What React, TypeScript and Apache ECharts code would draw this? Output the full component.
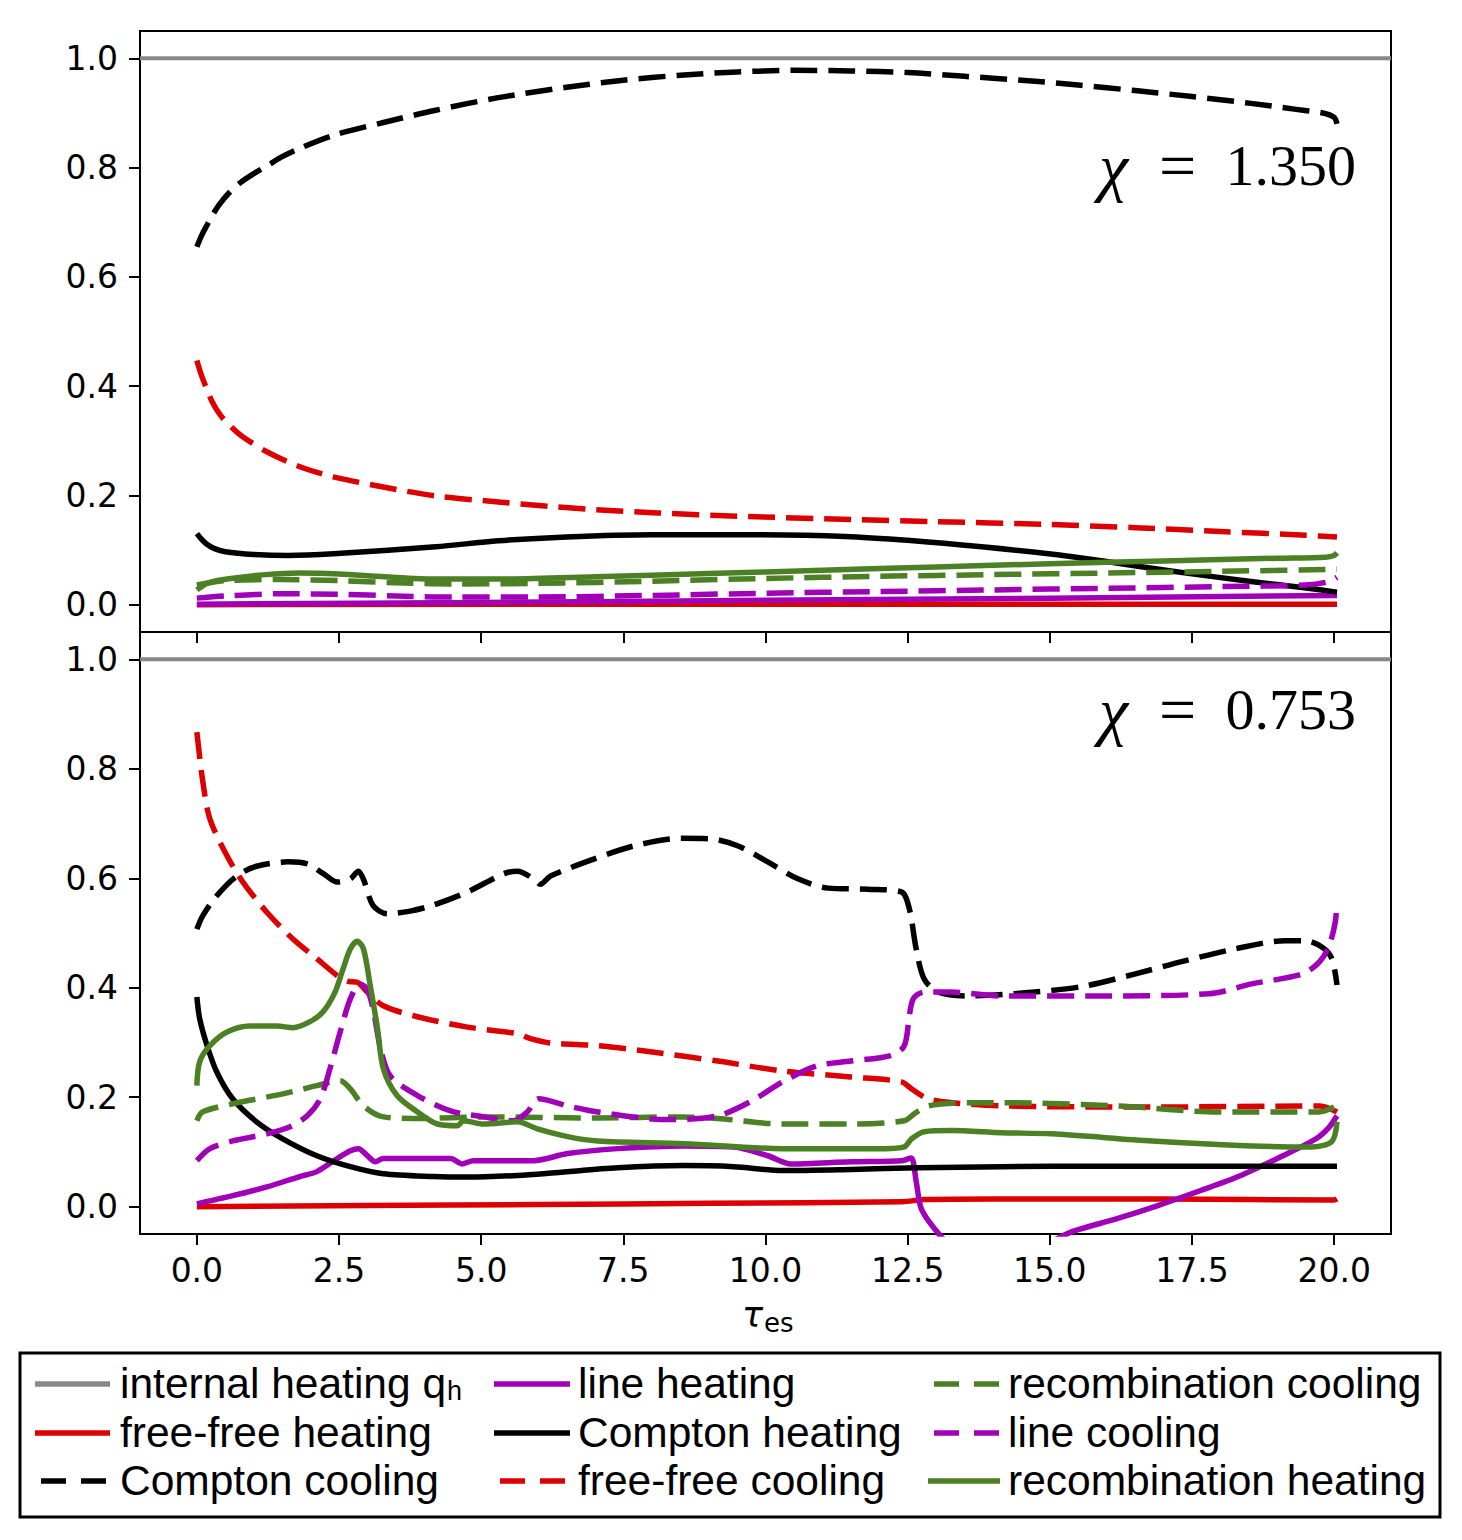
import React, { useEffect, useRef } from "react";
import * as echarts from "echarts";

// ---------- tick values ----------
const xTicks = [0, 2.5, 5, 7.5, 10, 12.5, 15, 17.5, 20];
const yTicks = [0, 0.2, 0.4, 0.6, 0.8, 1.0];

// ---------- legend labels (column-major order) ----------
const legendNames = [
  "internal heating q",
  "free-free heating",
  "Compton cooling",
  "line heating",
  "Compton heating",
  "free-free cooling",
  "recombination cooling",
  "line cooling",
  "recombination heating",
];

const panelLabels = ["1.350", "0.753"];

// ---------- top panel (chi = 1.350) ----------
const internalHeating = [[-1, 1], [21, 1]];

const ffHeatTop = [[0, 0.0], [10, 0.001], [20.05, 0.001]];

const comptonCoolTop = [
  [0, 0.655], [0.08, 0.675], [0.17, 0.693], [0.28, 0.714], [0.4, 0.733], [0.56, 0.753],
  [0.76, 0.772], [1.0, 0.789], [1.23, 0.803], [1.5, 0.82], [1.8, 0.835],
  [2.4, 0.859], [3.3, 0.883], [4.2, 0.905], [5.3, 0.928], [6.5, 0.947], [7.5, 0.96],
  [8.5, 0.969], [9.5, 0.975], [10.5, 0.978], [11.5, 0.977], [12.5, 0.974], [13.5, 0.967],
  [14.5, 0.96], [15.5, 0.951], [16.5, 0.941], [17.5, 0.93], [18.5, 0.918], [19.3, 0.907],
  [19.8, 0.9], [20.0, 0.892], [20.05, 0.88],
];

const lineHeatTop = [[0, 0.001], [5, 0.004], [10, 0.008], [15, 0.012], [20.05, 0.017]];

const comptonHeatTop = [
  [0, 0.13], [0.08, 0.12], [0.17, 0.111], [0.3, 0.103], [0.5, 0.097], [1, 0.092],
  [1.6, 0.09], [2.4, 0.093], [4.2, 0.106], [5.3, 0.117], [6.5, 0.124], [8, 0.128],
  [9.5, 0.128], [11.4, 0.125], [12.6, 0.117], [13.8, 0.106], [14.9, 0.094], [16, 0.079],
  [17.1, 0.062], [18.5, 0.043], [19.4, 0.032], [20.05, 0.023],
];

const ffCoolTop = [
  [0, 0.447], [0.08, 0.42], [0.17, 0.396], [0.28, 0.369], [0.42, 0.346], [0.6, 0.326],
  [0.8, 0.308], [1.23, 0.28], [1.8, 0.253], [2.4, 0.234], [3.3, 0.215], [4.2, 0.199],
  [5.3, 0.188], [6.2, 0.18], [7, 0.174], [8.1, 0.168], [9.5, 0.162], [11.5, 0.156],
  [13, 0.152], [14.9, 0.147], [16.5, 0.141], [18, 0.134], [19.5, 0.127], [20.05, 0.124],
];

const recombCoolTop = [
  [0, 0.036], [0.5, 0.044], [1.5, 0.046], [2.5, 0.044], [3.5, 0.04], [4.5, 0.038],
  [6, 0.039], [8, 0.043], [10, 0.048], [12, 0.052], [14, 0.055], [16, 0.058],
  [18, 0.061], [20.05, 0.065],
];

const lineCoolTop = [
  [0, 0.012], [0.5, 0.016], [1.5, 0.02], [2.5, 0.019], [3.5, 0.016], [4.5, 0.014],
  [6, 0.014], [8, 0.017], [10, 0.021], [12, 0.024], [14, 0.027], [16, 0.03],
  [18, 0.033], [19.5, 0.036], [19.9, 0.042], [20.05, 0.05],
];

const recombHeatTop = [
  [0, 0.027], [0.2, 0.04], [0.6, 0.048], [1.2, 0.055], [1.8, 0.058], [2.5, 0.056],
  [3.3, 0.051], [4.2, 0.047], [5.5, 0.047], [7, 0.051], [9, 0.057], [11, 0.063],
  [13, 0.069], [15, 0.075], [17, 0.08], [19, 0.085], [19.85, 0.087], [20.0, 0.09],
  [20.05, 0.095],
];

// ---------- bottom panel (chi = 0.753) ----------
const ffHeatBot = [
  [0, 0.0], [3, 0.002], [6, 0.004], [9, 0.006], [12.4, 0.009], [12.8, 0.013],
  [14, 0.014], [17, 0.014], [20, 0.012], [20.05, 0.014],
];

const comptonCoolBot = [
  [0, 0.507], [0.1, 0.531], [0.35, 0.568], [0.7, 0.604], [1.05, 0.622], [1.6, 0.63],
  [1.95, 0.626], [2.23, 0.608], [2.47, 0.593], [2.7, 0.599], [2.84, 0.613], [2.93, 0.598],
  [3.1, 0.55], [3.35, 0.535], [3.75, 0.54], [4.16, 0.551], [4.76, 0.575], [5.39, 0.608],
  [5.64, 0.613], [5.92, 0.599], [6.04, 0.589], [6.22, 0.604], [6.98, 0.635], [7.68, 0.659],
  [8.51, 0.673], [9.04, 0.672], [9.52, 0.659], [10.04, 0.63], [10.57, 0.599], [11.1, 0.582],
  [11.8, 0.58], [12.39, 0.575], [12.53, 0.544], [12.65, 0.471], [12.79, 0.416], [13.04, 0.392],
  [13.57, 0.385], [14.73, 0.392], [15.61, 0.403], [16.49, 0.425], [17.37, 0.449],
  [18.26, 0.471], [19.14, 0.486], [19.49, 0.486], [19.79, 0.474], [19.96, 0.453], [20.05, 0.405],
];

const lineHeatBot = [
  [0, 0.005], [0.63, 0.02], [1.23, 0.036], [1.81, 0.055], [2.11, 0.064], [2.47, 0.088],
  [2.7, 0.102], [2.84, 0.106], [3.0, 0.093], [3.14, 0.082], [3.28, 0.088], [3.88, 0.088],
  [4.46, 0.088], [4.67, 0.078], [4.86, 0.084], [5.92, 0.084], [6.52, 0.097], [7.4, 0.106],
  [8.56, 0.111], [9.44, 0.109], [10.04, 0.093], [10.45, 0.078], [11.5, 0.082], [12.4, 0.084],
  [12.56, 0.089], [12.65, 0.046], [12.74, -0.004], [12.97, -0.04], [13.3, -0.075],
  [14.0, -0.095], [14.6, -0.088], [15.1, -0.06], [15.44, -0.044], [16.18, -0.022],
  [16.9, 0.002], [17.64, 0.029], [18.36, 0.057], [19.1, 0.093], [19.68, 0.124],
  [19.91, 0.145], [20.05, 0.166],
];

const comptonHeatBot = [
  [0, 0.383], [0.05, 0.343], [0.18, 0.294], [0.35, 0.246], [0.63, 0.197], [1.05, 0.155],
  [1.51, 0.124], [2.11, 0.093], [2.7, 0.073], [3.28, 0.06], [4.16, 0.055], [4.76, 0.054],
  [5.64, 0.057], [6.3, 0.062], [7.4, 0.071], [8.56, 0.075], [9.44, 0.073], [10.3, 0.066],
  [11.5, 0.068], [12.68, 0.071], [14.15, 0.073], [16, 0.074], [20.05, 0.074],
];

const ffCoolBot = [
  [0, 0.867], [0.1, 0.78], [0.23, 0.708], [0.53, 0.641], [0.81, 0.593], [1.23, 0.538],
  [1.69, 0.489], [2.11, 0.453], [2.47, 0.422], [2.64, 0.412], [2.82, 0.41], [3.0, 0.392],
  [3.28, 0.367], [3.88, 0.347], [4.76, 0.328], [5.64, 0.316], [5.87, 0.307], [6.22, 0.299],
  [7.05, 0.294], [7.98, 0.283], [9.16, 0.266], [10.3, 0.248], [11.5, 0.237], [12.39, 0.228],
  [12.57, 0.215], [12.86, 0.197], [13.27, 0.19], [14.15, 0.184], [16.8, 0.182],
  [19.75, 0.184], [20.05, 0.173],
];

const recombCoolBot = [
  [0, 0.157], [0.1, 0.173], [0.63, 0.188], [1.51, 0.206], [2.11, 0.221], [2.52, 0.23],
  [2.7, 0.215], [2.93, 0.184], [3.28, 0.164], [3.88, 0.161], [5.04, 0.164], [7.05, 0.162],
  [8.5, 0.164], [9.16, 0.161], [10.3, 0.151], [11.5, 0.151], [12.44, 0.157], [12.62, 0.17],
  [12.86, 0.184], [13.57, 0.19], [14.15, 0.19], [16.2, 0.184], [17.97, 0.173],
  [19.73, 0.173], [20.0, 0.182],
];

const lineCoolBot = [
  [0, 0.084], [0.23, 0.106], [0.63, 0.12], [1.23, 0.133], [1.64, 0.146], [1.94, 0.166],
  [2.17, 0.197], [2.34, 0.252], [2.52, 0.319], [2.7, 0.38], [2.87, 0.407], [2.99, 0.398],
  [3.1, 0.361], [3.22, 0.294], [3.4, 0.239], [3.88, 0.203], [4.46, 0.175], [5.04, 0.164],
  [5.57, 0.157], [5.81, 0.173], [6.01, 0.197], [6.52, 0.184], [7.05, 0.173], [8.28, 0.159],
  [9.16, 0.166], [9.74, 0.192], [10.3, 0.228], [10.9, 0.257], [11.5, 0.266], [12.2, 0.276],
  [12.44, 0.294], [12.53, 0.349], [12.6, 0.38], [12.79, 0.392], [13.27, 0.392],
  [14.15, 0.385], [16.0, 0.385], [17.8, 0.389], [18.55, 0.407], [19.44, 0.425],
  [19.74, 0.447], [19.91, 0.476], [20.02, 0.52], [20.05, 0.557],
];

const recombHeatBot = [
  [0, 0.221], [0.05, 0.265], [0.23, 0.294], [0.53, 0.319], [0.93, 0.33], [1.41, 0.33],
  [1.69, 0.327], [1.99, 0.338], [2.22, 0.356], [2.43, 0.392], [2.57, 0.434], [2.7, 0.471],
  [2.82, 0.485], [2.93, 0.471], [3.05, 0.403], [3.17, 0.33], [3.28, 0.252], [3.52, 0.203],
  [3.88, 0.173], [4.23, 0.151], [4.58, 0.148], [4.69, 0.157], [5.04, 0.151], [5.64, 0.155],
  [5.99, 0.142], [6.52, 0.128], [7.05, 0.12], [8.56, 0.115], [10.3, 0.106], [12.1, 0.106],
  [12.44, 0.109], [12.57, 0.124], [12.79, 0.137], [13.27, 0.139], [14.15, 0.135],
  [15.03, 0.133], [16.8, 0.12], [18.55, 0.111], [19.6, 0.109], [19.96, 0.119], [20.05, 0.155],
];

// ---------- styles ----------
const GRAY = "#888888";
const RED = "#dd0000";
const BLACK = "#000000";
const PURPLE = "#a000b8";
const GREEN = "#4b8024";
const DASH = [27, 11];

const styles = [
  { color: GRAY, dashed: false, width: 4 },
  { color: RED, dashed: false, width: 5.5 },
  { color: BLACK, dashed: true, width: 5.5 },
  { color: PURPLE, dashed: false, width: 5.5 },
  { color: BLACK, dashed: false, width: 5.5 },
  { color: RED, dashed: true, width: 5.5 },
  { color: GREEN, dashed: true, width: 5.5 },
  { color: PURPLE, dashed: true, width: 5.5 },
  { color: GREEN, dashed: false, width: 5.5 },
];

const topData = [internalHeating, ffHeatTop, comptonCoolTop, lineHeatTop, comptonHeatTop, ffCoolTop, recombCoolTop, lineCoolTop, recombHeatTop];
const botData = [internalHeating, ffHeatBot, comptonCoolBot, lineHeatBot, comptonHeatBot, ffCoolBot, recombCoolBot, lineCoolBot, recombHeatBot];

function measure(text: string, font: string): number {
  const c = document.createElement("canvas").getContext("2d");
  if (!c) return text.length * 20;
  c.font = font;
  return c.measureText(text).width;
}

export default function App() {
  const ref = useRef<HTMLDivElement>(null);

  useEffect(() => {
    if (!ref.current) return;
    const chart = echarts.init(ref.current, undefined, { renderer: "svg" });

    const tickFont = "DejaVu Sans";
    const mkX = (gridIndex: number, showLabel: boolean) => ({
      type: "value",
      gridIndex,
      min: -1,
      max: 21,
      axisLine: { show: true, onZero: false, lineStyle: { color: "#000", width: 2 } },
      axisTick: { show: true, customValues: xTicks, length: 11, lineStyle: { color: "#000", width: 2 } },
      axisLabel: {
        show: showLabel,
        customValues: xTicks,
        formatter: (v: number) => v.toFixed(1),
        fontFamily: tickFont,
        fontSize: 33,
        color: "#000",
        margin: 20,
      },
      splitLine: { show: false },
    });
    const mkY = (gridIndex: number) => ({
      type: "value",
      gridIndex,
      min: -0.05,
      max: 1.05,
      axisLine: { show: true, onZero: false, lineStyle: { color: "#000", width: 2 } },
      axisTick: { show: true, customValues: yTicks, length: 11, lineStyle: { color: "#000", width: 2 } },
      axisLabel: {
        show: true,
        customValues: yTicks,
        formatter: (v: number) => v.toFixed(1),
        fontFamily: tickFont,
        fontSize: 33,
        color: "#000",
        margin: 22,
      },
      splitLine: { show: false },
    });

    const series: any[] = [];
    [topData, botData].forEach((set, gi) => {
      set.forEach((d, i) => {
        const st = styles[i];
        series.push({
          type: "line",
          name: legendNames[i] + (gi ? " b" : " t"),
          xAxisIndex: gi,
          yAxisIndex: gi,
          data: d,
          showSymbol: false,
          symbol: "none",
          smooth: i === 0 ? false : 0.3,
          clip: true,
          silent: true,
          z: 2 + i,
          lineStyle: {
            color: st.color,
            width: st.width,
            type: st.dashed ? DASH : "solid",
            cap: "butt",
            join: "round",
          },
          emphasis: { disabled: true },
        });
      });
    });

    // ---------- legend (drawn manually) ----------
    const LF = 42.5;
    const legFont = "Liberation Sans";
    const rowsY = [1384, 1433, 1481];
    const colHandle = [
      [35, 110],
      [494, 570],
      [928, 1000],
    ];
    const colText = [120, 578, 1008];
    const graphics: any[] = [
      {
        type: "rect",
        shape: { x: 20, y: 1353, width: 1420, height: 164 },
        style: { fill: "#fff", stroke: "#000", lineWidth: 3 },
        z: 10,
      },
    ];
    legendNames.forEach((nm, i) => {
      const col = Math.floor(i / 3);
      const row = i % 3;
      const st = styles[i];
      const y = rowsY[row];
      const [x1, x2] = colHandle[col];
      graphics.push({
        type: "line",
        shape: { x1: st.dashed ? x1 + 6 : x1, y1: y, x2, y2: y },
        style: {
          stroke: st.color,
          lineWidth: 5.5,
          lineDash: st.dashed ? [25, 15] : null,
          lineCap: "butt",
        },
        z: 11,
      });
      graphics.push({
        type: "text",
        x: colText[col],
        y: y - 1,
        style: {
          text: nm,
          font: `${LF}px '${legFont}'`,
          fill: "#000",
          align: "left",
          verticalAlign: "middle",
        },
        z: 11,
      });
      if (i === 0) {
        const w = measure(nm, `${LF}px '${legFont}'`);
        graphics.push({
          type: "text",
          x: colText[col] + w + 1,
          y: y + 7,
          style: {
            text: "h",
            font: `27px '${legFont}'`,
            fill: "#000",
            align: "left",
            verticalAlign: "middle",
          },
          z: 11,
        });
      }
    });

    // ---------- x axis label tau_es ----------
    const tauFont = "italic 35px 'DejaVu Sans'";
    const tauW = measure("τ", tauFont);
    graphics.push({
      type: "text",
      x: 742,
      y: 1315,
      style: { text: "τ", font: tauFont, fill: "#000", align: "left", verticalAlign: "middle" },
    });
    graphics.push({
      type: "text",
      x: 742 + tauW + 1,
      y: 1323,
      style: { text: "es", font: "26px 'DejaVu Sans'", fill: "#000", align: "left", verticalAlign: "middle" },
    });

    // ---------- chi labels ----------
    const midY = [165, 709];
    panelLabels.forEach((lab, k) => {
      const my = midY[k];
      graphics.push({
        type: "text",
        x: 1099,
        y: my + 1,
        style: { text: "χ", font: "italic 66px 'Liberation Serif'", fill: "#000", align: "left", verticalAlign: "middle" },
        z: 12,
      });
      graphics.push({
        type: "text",
        x: 1159,
        y: my,
        style: { text: "=", font: "66px 'Liberation Serif'", fill: "#000", align: "left", verticalAlign: "middle" },
        z: 12,
      });
      graphics.push({
        type: "text",
        x: 1356,
        y: my,
        style: {
          text: lab,
          font: "58px 'Liberation Serif'",
          fill: "#000",
          align: "right",
          verticalAlign: "middle",
        },
        z: 12,
      });
    });

    chart.setOption({
      animation: false,
      backgroundColor: "#fff",
      grid: [
        { left: 140, top: 31, width: 1251, height: 601, show: true, borderColor: "#000", borderWidth: 2, backgroundColor: "transparent" },
        { left: 140, top: 632, width: 1251, height: 602, show: true, borderColor: "#000", borderWidth: 2, backgroundColor: "transparent" },
      ],
      xAxis: [mkX(0, false), mkX(1, true)],
      yAxis: [mkY(0), mkY(1)],
      series,
      graphic: graphics,
    });

    return () => chart.dispose();
  }, []);

  return (
    <div
      ref={ref}
      style={{ position: "absolute", left: 0, top: 0, width: 1462, height: 1540, background: "#fff" }}
    />
  );
}
